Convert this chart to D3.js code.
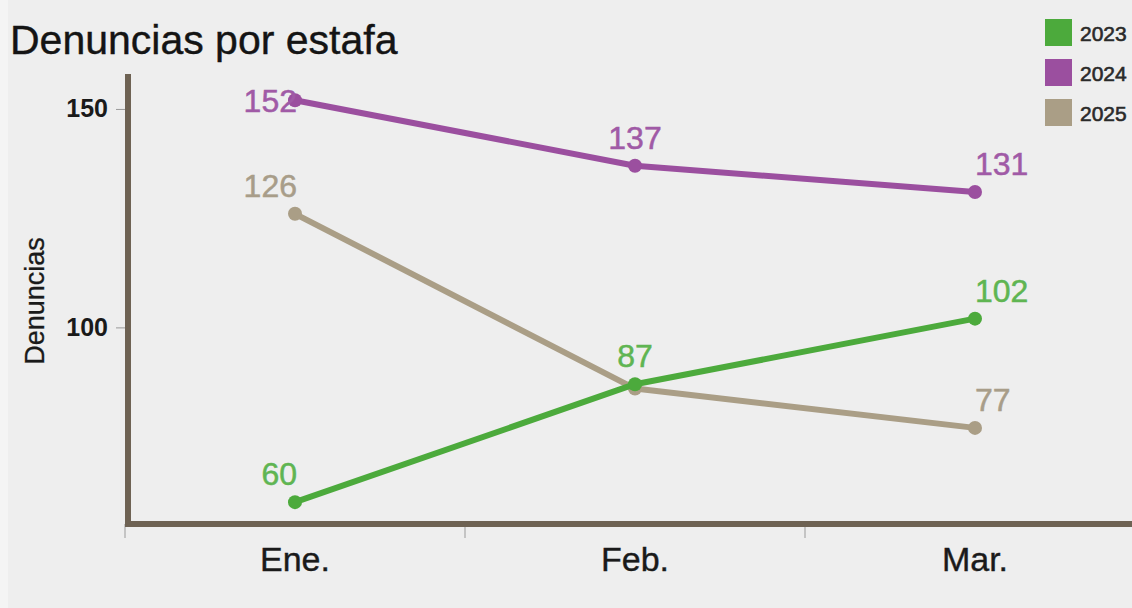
<!DOCTYPE html>
<html><head><meta charset="utf-8">
<script src="https://cdn.jsdelivr.net/npm/d3@7"></script>
<style>html,body{margin:0;padding:0;background:#eeeeee;}svg{display:block;font-family:"Liberation Sans",Arial,sans-serif;}</style>
</head><body>
<svg id="c" width="1132" height="608"></svg>
<script>
const categories = ["Ene.", "Feb.", "Mar."];
const seriesNames = ["2023", "2024", "2025"];
const values2023 = [60, 87, 102];
const values2024 = [152, 137, 131];
const values2025 = [126, 86, 77];
const yTickValues = [100, 150];
const hiddenLabels = [["2025", "Feb."]];
const colors = {"2023": "#4caa3c", "2024": "#9b4f9f", "2025": "#aa9e86"};
const labelColors = {"2023": "#5fb552", "2024": "#a05aa6", "2025": "#a89d89"};

const series = [
  {name: "2025", values: values2025},
  {name: "2024", values: values2024},
  {name: "2023", values: values2023}
];

const svg = d3.select("#c");
svg.append("rect").attr("width", 1132).attr("height", 608).attr("fill", "#eeeeee");
svg.append("rect").attr("width", 8).attr("height", 608).attr("fill", "#f4f4f4");

const x = d3.scaleBand().domain(categories).range([125, 1145]);
const y = d3.scaleLinear().domain([55, 158]).range([524, 74]);
const cx = d => x(d) + x.bandwidth() / 2;

// title
svg.append("text").attr("x", 10).attr("y", 54).attr("font-size", 41).attr("fill", "#141414")
  .attr("stroke", "#141414").attr("stroke-width", 0.4)
  .text("Denuncias por estafa");

// y axis
const yAxis = svg.append("g").attr("transform", "translate(128,0)")
  .call(d3.axisLeft(y).tickValues(yTickValues).tickSize(12).tickPadding(8).tickSizeOuter(0));
yAxis.select(".domain").remove();
yAxis.selectAll(".tick line").attr("stroke", "#9a9a9a").attr("stroke-width", 1);
yAxis.selectAll(".tick text").attr("font-size", 25).attr("font-weight", "bold").attr("fill", "#1a1a1a")
  .attr("font-family", "Liberation Sans, Arial, sans-serif");

// x boundary ticks
svg.append("g").selectAll("line").data(categories).join("line")
  .attr("x1", d => x(d)).attr("x2", d => x(d)).attr("y1", 524).attr("y2", 538)
  .attr("stroke", "#9a9a9a").attr("stroke-width", 1);

// x labels
const xAxis = svg.append("g").attr("transform", "translate(0,524)")
  .call(d3.axisBottom(x).tickSize(0).tickPadding(23));
xAxis.select(".domain").remove();
xAxis.selectAll(".tick text").attr("font-size", 34).attr("fill", "#1a1a1a")
  .attr("stroke", "#1a1a1a").attr("stroke-width", 0.4)
  .attr("font-family", "Liberation Sans, Arial, sans-serif").attr("dy", "0.72em");

// axis lines
svg.append("line").attr("x1", 128).attr("x2", 128).attr("y1", y.range()[1]).attr("y2", 527)
  .attr("stroke", "#6e6253").attr("stroke-width", 6);
svg.append("line").attr("x1", 125).attr("x2", 1132).attr("y1", 524).attr("y2", 524)
  .attr("stroke", "#6e6253").attr("stroke-width", 6);

// y axis title
svg.append("text").attr("transform", "translate(44,301) rotate(-90)").attr("text-anchor", "middle")
  .attr("font-size", 27).attr("fill", "#1a1a1a").attr("stroke", "#1a1a1a").attr("stroke-width", 0.3)
  .text("Denuncias");

// lines
const line = d3.line().x((v, i) => cx(categories[i])).y(v => y(v));
series.forEach(s => {
  const g = svg.append("g");
  g.append("path").attr("d", line(s.values)).attr("fill", "none")
    .attr("stroke", colors[s.name]).attr("stroke-width", 6).attr("stroke-linejoin", "round");
  g.selectAll("circle").data(s.values).join("circle")
    .attr("cx", (v, i) => cx(categories[i])).attr("cy", v => y(v)).attr("r", 7)
    .attr("fill", colors[s.name]);
});

// labels
series.forEach(s => {
  s.values.forEach((v, i) => {
    const cat = categories[i];
    if (hiddenLabels.some(h => h[0] === s.name && h[1] === cat)) return;
    const anchor = i === 0 ? "end" : (i === categories.length - 1 ? "start" : "middle");
    const ly = Math.max(y(v) - 17, y.range()[1] + 38);
    svg.append("text").attr("x", cx(cat) + (i === 0 ? 2 : 0)).attr("y", ly)
      .attr("text-anchor", anchor).attr("font-size", 32).attr("fill", labelColors[s.name])
      .attr("stroke", labelColors[s.name]).attr("stroke-width", 0.5)
      .text(v);
  });
});

// legend
const lg = svg.append("g").attr("transform", "translate(1045,19)");
seriesNames.forEach((n, i) => {
  lg.append("rect").attr("x", 0).attr("y", i * 40).attr("width", 27).attr("height", 27)
    .attr("fill", colors[n]);
  lg.append("text").attr("x", 35).attr("y", i * 40 + 22).attr("font-size", 21)
    .attr("fill", "#2a2a2a").attr("stroke", "#2a2a2a").attr("stroke-width", 0.6).text(n);
});
</script>
</body></html>
